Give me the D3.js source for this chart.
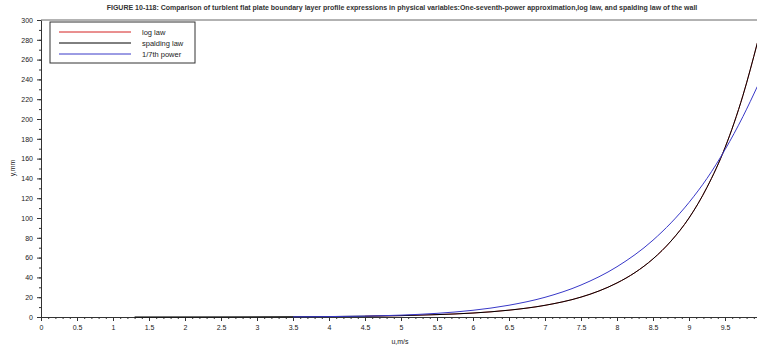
<!DOCTYPE html>
<html lang="en">
<head>
	<meta charset="utf-8">
	<title>Boundary layer profiles</title>
	<script src="https://cdn.jsdelivr.net/npm/d3@7/dist/d3.min.js"></script>
</head>
<style>
	body { margin: 0; background: #fff; }
	svg { display: block; background-color: #fff; font-family: "Liberation Sans", Arial, sans-serif; }
	.tick text { font-size: 7px; fill: #222; }
	.axis path, .axis line { stroke: #333; }
</style>
<body>
<svg id="chart" width="757" height="350"></svg>
<script>
	// values (u in m/s, y in mm)
	var logU = [4.5, 5, 5.5, 6, 6.5, 7, 7.5, 7.75, 8, 8.25, 8.5, 8.75, 9, 9.25, 9.5, 9.75, 9.95];
	var logY = [0.8, 1.4, 2.4, 4.0, 6.9, 11.8, 20.1, 26.3, 34.4, 44.9, 58.7, 76.7, 100, 131, 171, 224, 277];

	var spaldingU = [1.3, 1.5, 2, 2.5, 3, 3.5, 4, 4.5, 5, 5.5, 6, 6.5, 7, 7.5, 7.75, 8, 8.25, 8.5, 8.75, 9, 9.25, 9.5, 9.75, 9.95];
	var spaldingY = [0.01, 0.02, 0.05, 0.09, 0.16, 0.27, 0.47, 0.8, 1.4, 2.4, 4.0, 6.9, 11.8, 20.1, 26.3, 34.4, 44.9, 58.7, 76.7, 100, 131, 171, 224, 277];

	var powerU = [3.5, 4, 4.5, 5, 5.5, 6, 6.5, 7, 7.5, 8, 8.5, 9, 9.25, 9.5, 9.75, 9.95];
	var powerY = [0.16, 0.4, 0.9, 1.9, 3.7, 6.8, 11.9, 19.9, 32.3, 50.8, 77.6, 115.7, 140, 169, 202.6, 233];

	var xTicks = [0, 0.5, 1, 1.5, 2, 2.5, 3, 3.5, 4, 4.5, 5, 5.5, 6, 6.5, 7, 7.5, 8, 8.5, 9, 9.5];
	var yTicks = [0, 20, 40, 60, 80, 100, 120, 140, 160, 180, 200, 220, 240, 260, 280, 300];

	var seriesNames = ['log law', 'spalding law', '1/7th power'];
	var seriesColors = ['#d42020', '#000000', '#3838c8'];
	var seriesWidths = [0.8, 1, 1];

	var title = 'FIGURE 10-118: Comparison of turblent flat plate boundary layer profile expressions in physical variables:One-seventh-power approximation,log law, and spalding law of the wall';

	var svg = d3.select('#chart');
	var margin = {left: 41, right: 761, top: 20, bottom: 317};

	var x = d3.scaleLinear().domain([0, 10]).range([margin.left, margin.right]);
	var y = d3.scaleLinear().domain([0, 300]).range([margin.bottom, margin.top]);

	// frame line on top
	svg.append('line')
		.attr('x1', margin.left).attr('x2', 757)
		.attr('y1', margin.top).attr('y2', margin.top)
		.attr('stroke', '#666').attr('stroke-width', 1);

	// minor ticks
	svg.append('g')
		.attr('class', 'axis')
		.attr('transform', 'translate(0,' + margin.bottom + ')')
		.call(d3.axisBottom(x).tickValues(d3.range(0, 100).map(function(i) { return i / 10; })).tickSize(2).tickFormat(''))
		.select('.domain').remove();
	svg.append('g')
		.attr('class', 'axis')
		.attr('transform', 'translate(' + margin.left + ',0)')
		.call(d3.axisLeft(y).tickValues(d3.range(0, 31).map(function(i) { return i * 10; })).tickSize(2).tickFormat(''))
		.select('.domain').remove();

	// major axes
	svg.append('g')
		.attr('class', 'axis')
		.attr('transform', 'translate(0,' + margin.bottom + ')')
		.call(d3.axisBottom(x).tickValues(xTicks).tickSize(4).tickSizeOuter(0).tickPadding(4).tickFormat(d3.format('')));
	svg.append('g')
		.attr('class', 'axis')
		.attr('transform', 'translate(' + margin.left + ',0)')
		.call(d3.axisLeft(y).tickValues(yTicks).tickSize(4).tickSizeOuter(0).tickPadding(4));

	// curves
	var line = d3.line()
		.x(function(d) { return x(d[0]); })
		.y(function(d) { return y(d[1]); })
		.curve(d3.curveMonotoneX);

	var curves = [d3.zip(logU, logY), d3.zip(spaldingU, spaldingY), d3.zip(powerU, powerY)];
	svg.append('g').selectAll('path')
		.data(curves)
		.enter().append('path')
		.attr('d', line)
		.attr('fill', 'none')
		.attr('stroke', function(d, i) { return seriesColors[i]; })
		.attr('stroke-width', function(d, i) { return seriesWidths[i]; });

	// title and labels
	svg.append('text')
		.attr('x', 402).attr('y', 10)
		.attr('text-anchor', 'middle')
		.attr('font-size', '7px').attr('font-weight', 'bold').attr('fill', '#333')
		.text(title);

	svg.append('text')
		.attr('x', 400).attr('y', 344)
		.attr('text-anchor', 'middle')
		.attr('font-size', '7px').attr('fill', '#222')
		.text('u,m/s');

	svg.append('text')
		.attr('transform', 'translate(15,168) rotate(-90)')
		.attr('text-anchor', 'middle')
		.attr('font-size', '7px').attr('fill', '#222')
		.text('y,mm');

	// legend
	var legend = svg.append('g');
	legend.append('rect')
		.attr('x', 50).attr('y', 22).attr('width', 145).attr('height', 41)
		.attr('fill', '#fff').attr('stroke', '#333').attr('stroke-width', 1);
	seriesNames.forEach(function(name, i) {
		var ly = 32 + i * 11;
		legend.append('line')
			.attr('x1', 59).attr('x2', 131).attr('y1', ly).attr('y2', ly)
			.attr('stroke', seriesColors[i]).attr('stroke-width', 1);
		legend.append('text')
			.attr('x', 142).attr('y', ly + 2.5)
			.attr('font-size', '7.5px').attr('fill', '#222')
			.text(name);
	});
</script>
</body>
</html>
